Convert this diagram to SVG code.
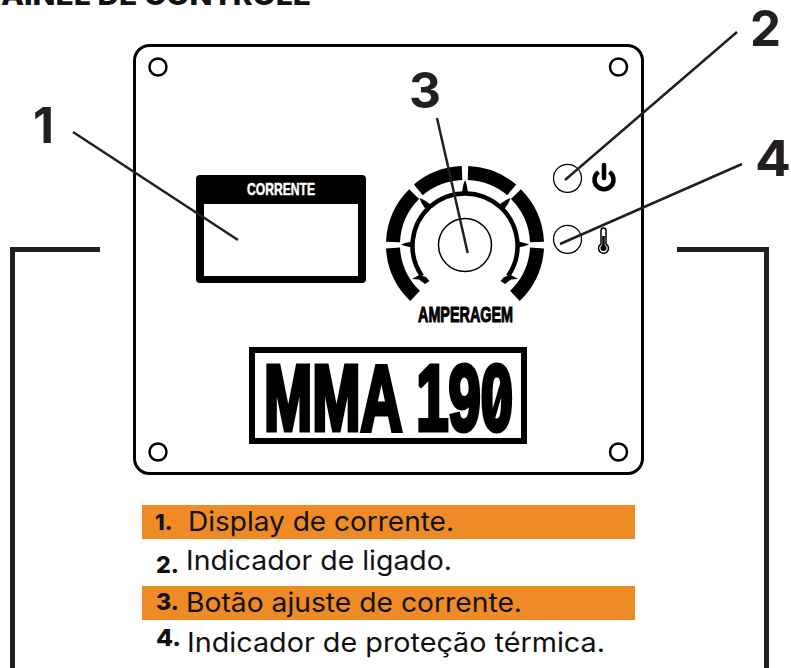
<svg xmlns="http://www.w3.org/2000/svg" width="791" height="668" viewBox="0 0 791 668">
<style>
.m{font-family:Inter,"Noto Sans","Liberation Sans",sans-serif;fill:#111}
.n{font-family:Inter,"Noto Sans","Liberation Sans",sans-serif;font-weight:800;fill:#111}
.c{font-family:"Liberation Sans",Arial,sans-serif;font-weight:700}
.lead{fill:none;stroke:#231f20;stroke-width:2.5}
.screw{fill:#fff;stroke:#000;stroke-width:2.5}
.seg{fill:none;stroke:#000;stroke-width:14}
.big{font-family:Inter,"Noto Sans",sans-serif;font-weight:700;font-size:49px;fill:#231f20}
</style>
<rect width="791" height="668" fill="#fff"/>
<text id="title" class="n" x="-16" y="5" font-size="27" font-weight="900" textLength="327" lengthAdjust="spacingAndGlyphs">PAINEL DE CONTROLE</text>
<g id="frame" fill="none" stroke="#231f20" stroke-width="5">
<path d="M100 249.500H12.500V668"/>
<path d="M677 249.500H766.500V668"/>
</g>
<g id="panel">
<rect x="134.500" y="45.500" width="508" height="428" rx="15" fill="#fff" stroke="#000" stroke-width="3"/>
<circle class="screw" cx="158" cy="67" r="8.500"/>
<circle class="screw" cx="618.500" cy="67" r="8.500"/>
<circle class="screw" cx="158" cy="452" r="8.500"/>
<circle class="screw" cx="618.500" cy="452" r="8.500"/>
</g>
<g id="display">
<rect x="196" y="175" width="170" height="108" rx="4" fill="#000"/>
<rect x="204" y="204" width="154" height="72" fill="#fff"/>
<text class="c" x="247" y="195" font-size="17" fill="#fff" stroke="#fff" stroke-width=".5" textLength="68" lengthAdjust="spacingAndGlyphs">CORRENTE</text>
</g>
<g id="knob">
<path class="seg" d="M415.100 295.900A72 72 0 0 1 393 248"/>
<path class="seg" d="M393 242A72 72 0 0 1 414.100 194.100"/>
<path class="seg" d="M418.300 189.900A72 72 0 0 1 462 173.100"/>
<path class="seg" d="M468 173.100A72 72 0 0 1 511.700 189.900"/>
<path class="seg" d="M515.900 194.100A72 72 0 0 1 537 242"/>
<path class="seg" d="M537 248A72 72 0 0 1 514.900 295.900"/>
<path d="M422 276A52.500 52.500 0 1 1 508 276" fill="none" stroke="#000" stroke-width="4.500"/>
<g fill="#000">
<polygon points="465,180 466.500,184 468,192 462,192 463.500,184"/>
<polygon points="401,244.500 405,243 412,241.500 412,247.500 405,246"/>
<polygon points="529,244.500 525,243 518,241.500 518,247.500 525,246"/>
<polygon points="419.500,198 424,200 430,204 425.500,209 421.500,203"/>
<polygon points="510.500,198 506,200 500,204 504.500,209 508.500,203"/>
<polygon points="412,279 419,275 426,277 429.500,281 425,284 419,279.500"/>
<polygon points="518,279 511,275 504,277 500.500,281 505,284 511,279.500"/>
</g>
<circle cx="465" cy="245" r="26.500" fill="#fff" stroke="#000" stroke-width="1.500"/>
<text class="c" x="418" y="321.500" font-size="22" fill="#000" stroke="#000" stroke-width="1" textLength="95" lengthAdjust="spacingAndGlyphs">AMPERAGEM</text>
</g>
<g id="indicators">
<circle cx="567.500" cy="178.300" r="14" fill="#fff" stroke="#000" stroke-width="1.300"/>
<circle cx="567.500" cy="239.300" r="14" fill="#fff" stroke="#000" stroke-width="1.300"/>
<path d="M598.500 172A9.500 9.500 0 1 0 609.500 172" fill="none" stroke="#000" stroke-width="4.500"/>
<path d="M604 165V178" fill="none" stroke="#000" stroke-width="4.500" stroke-linecap="round"/>
<path d="M601 230.500a2.500 2.500 0 0 1 5 0V244a5 5 0 1 1-5 0Z" fill="#fff" stroke="#000" stroke-width="1.500"/>
<path d="M603.500 236V248" stroke="#000" stroke-width="2.500"/>
<circle cx="603.500" cy="248" r="3" fill="#000"/>
</g>
<g id="model">
<rect x="252" y="350" width="272" height="91" fill="#fff" stroke="#000" stroke-width="6"/>
<text class="c" x="264" y="429.500" font-size="93" fill="#000" stroke="#000" stroke-width="5" stroke-miterlimit="2" textLength="249" lengthAdjust="spacingAndGlyphs">MMA 190</text>
<path d="M506 372L492 420" stroke="#000" stroke-width="5" fill="none"/>
</g>
<g id="connectors">
<path class="lead" d="M73 132L238 240"/>
<path class="lead" d="M437 118L467.700 253"/>
<path class="lead" d="M737 32L565 180"/>
<path class="lead" d="M742 164L560 244"/>
</g>
<g id="callouts">
<text class="big" x="33" y="143" textLength="21" lengthAdjust="spacingAndGlyphs">1</text>
<text class="big" x="750" y="46" textLength="31" lengthAdjust="spacingAndGlyphs">2</text>
<text class="big" x="409" y="108" textLength="32" lengthAdjust="spacingAndGlyphs">3</text>
<text class="big" x="755" y="176" textLength="36" lengthAdjust="spacingAndGlyphs">4</text>
</g>
<g id="legend">
<rect x="142" y="505" width="493" height="34" fill="#ee8b26"/>
<rect x="142" y="586" width="493" height="34" fill="#ee8b26"/>
<text class="n" x="155" y="530" font-size="22">1.</text>
<text class="m" x="188" y="531" font-size="27" textLength="266" lengthAdjust="spacingAndGlyphs">Display de corrente.</text>
<text class="n" x="156" y="573" font-size="23" textLength="23" lengthAdjust="spacingAndGlyphs">2.</text>
<text class="m" x="186" y="570" font-size="27" textLength="266" lengthAdjust="spacingAndGlyphs">Indicador de ligado.</text>
<text class="n" x="156" y="610" font-size="23" textLength="23" lengthAdjust="spacingAndGlyphs">3.</text>
<text class="m" x="186" y="612" font-size="27" textLength="336" lengthAdjust="spacingAndGlyphs">Botão ajuste de corrente.</text>
<text class="n" x="156" y="646" font-size="23" textLength="25" lengthAdjust="spacingAndGlyphs">4.</text>
<text class="m" x="187" y="652" font-size="27" textLength="418" lengthAdjust="spacingAndGlyphs">Indicador de proteção térmica.</text>
</g>
</svg>
